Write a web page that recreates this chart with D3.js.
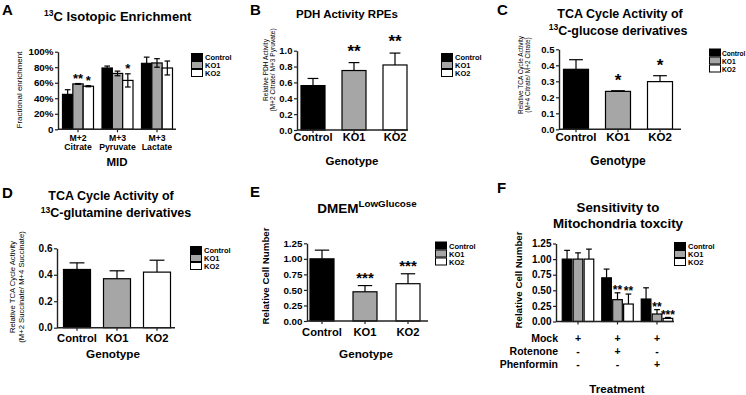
<!DOCTYPE html>
<html>
<head>
<meta charset="utf-8">
<script src="https://cdn.jsdelivr.net/npm/d3@7"></script>
<style>
  body { margin: 0; background: #fff; }
  svg { display: block; }
</style>
</head>
<body>
<svg id="fig" width="746" height="395"></svg>
<script>
const genotypes = ["Control", "KO1", "KO2"];
const colours = ["#000000", "#a6a6a6", "#ffffff"];

// A - 13C isotopic enrichment
const midIsotopologues = ["M+2", "M+3", "M+3"];
const midMetabolites = ["Citrate", "Pyruvate", "Lactate"];
const enrichMean = [[0.45, 0.585, 0.555], [0.79, 0.72, 0.63], [0.85, 0.855, 0.79]];
const enrichErr = [[0.06, 0.005, 0.007], [0.025, 0.03, 0.085], [0.08, 0.055, 0.09]];
const enrichStars = [["", "**", "*"], ["", "", "*"], ["", "", ""]];
const enrichTicks = [0, 0.2, 0.4, 0.6, 0.8, 1];

// B - PDH activity
const pdhMean = [0.56, 0.75, 0.82];
const pdhErr = [0.09, 0.10, 0.15];
const pdhStars = ["", "**", "**"];
const pdhTicks = [0, 0.2, 0.4, 0.6, 0.8, 1.0];

// C - TCA activity, glucose
const glcMean = [0.375, 0.237, 0.298];
const glcErr = [0.06, 0.004, 0.037];
const glcStars = ["", "*", "*"];
const glcTicks = [0, 0.1, 0.2, 0.3, 0.4, 0.5];

// D - TCA activity, glutamine
const glnMean = [0.44, 0.37, 0.42];
const glnErr = [0.05, 0.06, 0.09];
const glnStars = ["", "", ""];
const glnTicks = [0, 0.2, 0.4, 0.6];

// E - low glucose
const lowGlcMean = [1.0, 0.47, 0.60];
const lowGlcErr = [0.14, 0.10, 0.16];
const lowGlcStars = ["", "***", "***"];
const cellTicks = [0, 0.25, 0.5, 0.75, 1.0, 1.25];

// F - mitochondria toxicity
const treatments = ["Mock", "Mock+Rotenone", "Mock+Phenformin"];
const toxMean = [[1.0, 1.0, 1.0], [0.70, 0.35, 0.28], [0.36, 0.12, 0.05]];
const toxErr = [[0.14, 0.10, 0.16], [0.14, 0.11, 0.16], [0.18, 0.07, 0.015]];
const toxStars = [["", "", ""], ["", "**", "**"], ["", "**", "***"]];
const treatmentRows = ["Mock", "Rotenone", "Phenformin"];
const treatmentSigns = [["+", "+", "+"], ["-", "+", "-"], ["-", "-", "+"]];

const FONT = "'Liberation Sans', Arial, Helvetica, sans-serif";
const svg = d3.select("#fig").attr("font-family", FONT);

// title text with optional superscript parts: [[str, isSup], ...]
function richText(parent, t) {
  const el = parent.append("text")
    .attr("x", t.left != null ? t.left : t.x).attr("y", t.y)
    .attr("text-anchor", t.left != null ? "start" : "middle")
    .attr("font-size", t.size)
    .attr("font-weight", 700);
  let raised = false;
  t.parts.forEach(([str, sup]) => {
    const ts = el.append("tspan").text(str);
    if (sup) ts.attr("font-size", t.supSize);
    if (sup && !raised) { ts.attr("dy", -t.supRise); raised = true; }
    else if (!sup && raised) { ts.attr("dy", t.supRise); raised = false; }
  });
  return el;
}

function drawPanel(p) {
  const g = svg.append("g");
  const y = d3.scaleLinear().domain([0, p.yMax]).range([p.y0, p.yTop]);
  const n = p.groups.length;
  const pad = 1 - p.bw / p.step;
  const x = d3.scaleBand().domain(p.groups)
    .range([p.c0 - p.step / 2, p.c0 + (n - 0.5) * p.step])
    .paddingInner(pad).paddingOuter(pad / 2);
  const grouped = Array.isArray(p.mean[0]);
  const sub = d3.scaleBand().domain(genotypes)
    .range([0, x.bandwidth()]).paddingInner(p.subPad || 0);

  const bars = [];
  p.groups.forEach((grp, gi) => {
    if (grouped) {
      genotypes.forEach((gt, k) => bars.push({
        x: x(grp) + sub(gt), w: sub.bandwidth(),
        m: p.mean[gi][k], e: p.err[gi][k], s: p.stars[gi][k], fill: colours[k]
      }));
    } else {
      bars.push({
        x: x(grp), w: x.bandwidth(),
        m: p.mean[gi], e: p.err[gi], s: p.stars[gi], fill: colours[gi]
      });
    }
  });

  // bars
  g.selectAll("rect.bar").data(bars).enter().append("rect")
    .attr("class", "bar")
    .attr("x", d => d.x)
    .attr("y", d => y(d.m))
    .attr("width", d => d.w)
    .attr("height", d => p.y0 - y(d.m))
    .attr("fill", d => d.fill)
    .attr("stroke", "#000")
    .attr("stroke-width", 1.2);

  // error bars
  const eb = g.selectAll("g.err").data(bars).enter().append("g")
    .attr("stroke", "#000").attr("stroke-width", 1.2);
  eb.append("line")
    .attr("x1", d => d.x + d.w / 2).attr("x2", d => d.x + d.w / 2)
    .attr("y1", d => y(p.twoSided ? d.m - d.e : d.m))
    .attr("y2", d => y(d.m + d.e));
  eb.append("line")
    .attr("x1", d => d.x + d.w / 2 - d.w * p.cap / 2)
    .attr("x2", d => d.x + d.w / 2 + d.w * p.cap / 2)
    .attr("y1", d => y(d.m + d.e)).attr("y2", d => y(d.m + d.e));
  if (p.twoSided) {
    eb.append("line")
      .attr("x1", d => d.x + d.w / 2 - d.w * p.cap / 2)
      .attr("x2", d => d.x + d.w / 2 + d.w * p.cap / 2)
      .attr("y1", d => y(d.m - d.e)).attr("y2", d => y(d.m - d.e));
  }

  // significance stars
  g.selectAll("text.star").data(bars.filter(d => d.s)).enter().append("text")
    .attr("class", "star")
    .attr("x", d => d.x + d.w / 2)
    .attr("y", d => y(d.m + d.e) - p.starGap + 0.43 * p.starSize)
    .attr("text-anchor", "middle")
    .attr("font-size", p.starSize)
    .attr("font-weight", 700)
    .text(d => d.s);

  // y axis
  const ya = g.append("g")
    .attr("transform", `translate(${p.axisX},0)`)
    .call(d3.axisLeft(y).tickValues(p.ticks).tickFormat(p.fmt).tickSize(3).tickSizeOuter(0).tickPadding(1.5));
  ya.attr("font-family", FONT).attr("font-size", p.tickSize).attr("font-weight", 700);
  ya.selectAll("text").attr("fill", "#000");
  ya.selectAll("line").attr("stroke", "#222").attr("stroke-width", 1.2);
  ya.select(".domain").attr("stroke", "#222").attr("stroke-width", 1.4);

  // x axis
  g.append("line")
    .attr("x1", p.axisX).attr("x2", p.xEnd)
    .attr("y1", p.y0).attr("y2", p.y0)
    .attr("stroke", "#222").attr("stroke-width", 1.4);
  g.selectAll("line.xtick").data(p.groups).enter().append("line")
    .attr("x1", d => x(d) + x.bandwidth() / 2).attr("x2", d => x(d) + x.bandwidth() / 2)
    .attr("y1", p.y0).attr("y2", p.y0 + 3)
    .attr("stroke", "#222").attr("stroke-width", 1.2);

  // x tick labels
  if (p.xLabels) {
    p.xLabels.forEach((lines, li) => {
      p.groups.forEach((grp, gi) => {
        g.append("text")
          .attr("x", x(grp) + x.bandwidth() / 2)
          .attr("y", p.xLabY[li])
          .attr("text-anchor", "middle")
          .attr("font-size", p.xLabSize)
          .attr("font-weight", 700)
          .text(lines[gi]);
      });
    });
  }

  // treatment table (panel F)
  if (p.table) {
    p.table.rows.forEach((row, ri) => {
      const yy = p.table.y[ri];
      g.append("text")
        .attr("x", p.table.labelX).attr("y", yy)
        .attr("text-anchor", "end")
        .attr("font-size", p.table.size).attr("font-weight", 700)
        .text(row);
      p.groups.forEach((grp, gi) => {
        g.append("text")
          .attr("x", x(grp) + x.bandwidth() / 2).attr("y", yy)
          .attr("text-anchor", "middle")
          .attr("font-size", p.table.size).attr("font-weight", 700)
          .text(p.table.signs[ri][gi]);
      });
    });
  }

  // x title
  g.append("text")
    .attr("x", p.xTitle.x).attr("y", p.xTitle.y)
    .attr("text-anchor", "middle")
    .attr("font-size", p.xTitle.size).attr("font-weight", 700)
    .text(p.xTitle.text);

  // y label
  p.yLab.lines.forEach((line, i) => {
    g.append("text")
      .attr("transform", `translate(${p.yLab.x + i * p.yLab.lh},${p.yLab.cy}) rotate(-90)`)
      .attr("text-anchor", "middle")
      .attr("font-size", p.yLab.size)
      .attr("font-weight", p.yLab.weight || 400)
      .text(line);
  });

  // title
  p.title.forEach(t => richText(g, t));

  // legend
  const lg = g.append("g").attr("transform", `translate(${p.legend.x},${p.legend.y})`);
  genotypes.forEach((gt, k) => {
    lg.append("rect")
      .attr("x", 0.5).attr("y", k * 8 + 0.5)
      .attr("width", 11).attr("height", 7)
      .attr("fill", colours[k]).attr("stroke", "#000").attr("stroke-width", 1);
    lg.append("text")
      .attr("x", p.legend.dx || 14).attr("y", k * 8 + 7)
      .attr("font-size", p.legend.size).attr("font-weight", 700)
      .text(gt);
  });

  // panel letter
  svg.append("text")
    .attr("x", p.letter.x).attr("y", p.letter.y)
    .attr("font-size", 15).attr("font-weight", 700)
    .text(p.letter.text);
}

const fmt1 = d3.format(".1f");
const fmt2 = d3.format(".2f");

drawPanel({
  groups: midMetabolites, mean: enrichMean, err: enrichErr, stars: enrichStars, twoSided: true,
  yMax: 1, ticks: enrichTicks, fmt: d => d === 0 ? "0" : Math.round(d * 100) + "%",
  y0: 129.3, yTop: 51.7, axisX: 58, xEnd: 176, c0: 78, step: 39.5, bw: 31, cap: 0.55,
  tickSize: 9.8, starSize: 13, starGap: 6,
  xLabels: [midIsotopologues, midMetabolites], xLabY: [141, 150], xLabSize: 8.7,
  xTitle: { text: "MID", x: 117, y: 166, size: 11.5 },
  yLab: { lines: ["Fractional enrichment"], x: 22, cy: 90, size: 8, lh: 0 },
  title: [{ left: 44, y: 20.5, size: 13, supSize: 8.5, supRise: 4.5, parts: [["13", true], ["C Isotopic Enrichment", false]] }],
  legend: { x: 191, y: 53, size: 7.5 },
  letter: { text: "A", x: 2, y: 15 }
});

drawPanel({
  groups: genotypes, mean: pdhMean, err: pdhErr, stars: pdhStars,
  yMax: 1, ticks: pdhTicks, fmt: fmt1,
  y0: 130, yTop: 50.7, axisX: 297, xEnd: 408, c0: 313, step: 41, bw: 24, cap: 0.45,
  tickSize: 9.5, starSize: 17, starGap: 13,
  xLabels: [genotypes], xLabY: [141], xLabSize: 11,
  xTitle: { text: "Genotype", x: 352, y: 165, size: 11.5 },
  yLab: { lines: ["Relative PDH Activity", "(M+2 Citrate/ M+3 Pyruvate)"], x: 268, cy: 70, size: 6.6, lh: 7 },
  title: [{ x: 347, y: 18, size: 11.5, parts: [["PDH Activity RPEs", false]] }],
  legend: { x: 441, y: 53, size: 7.5 },
  letter: { text: "B", x: 250, y: 15 }
});

drawPanel({
  groups: genotypes, mean: glcMean, err: glcErr, stars: glcStars,
  yMax: 0.5, ticks: glcTicks, fmt: fmt1,
  y0: 129.3, yTop: 49.3, axisX: 559, xEnd: 681, c0: 576, step: 42, bw: 25, cap: 0.55,
  tickSize: 9.5, starSize: 17, starGap: 12,
  xLabels: [genotypes], xLabY: [141], xLabSize: 11.5,
  xTitle: { text: "Genotype", x: 618, y: 165, size: 12 },
  yLab: { lines: ["Relative TCA Cycle Activity", "(M+4 Citrate/ M+2 Citrate)"], x: 523, cy: 75, size: 6.5, lh: 7 },
  title: [
    { x: 620, y: 18, size: 12.5, parts: [["TCA Cycle Activity of", false]] },
    { x: 618, y: 34.5, size: 12.5, supSize: 8.5, supRise: 4.5, parts: [["13", true], ["C-glucose derivatives", false]] }
  ],
  legend: { x: 709, y: 48.5, size: 6.6, dx: 13 },
  letter: { text: "C", x: 497, y: 15 }
});

drawPanel({
  groups: genotypes, mean: glnMean, err: glnErr, stars: glnStars,
  yMax: 0.6, ticks: glnTicks, fmt: fmt1,
  y0: 327.7, yTop: 248.3, axisX: 57, xEnd: 175, c0: 77, step: 40, bw: 27, cap: 0.55,
  tickSize: 10, starSize: 14, starGap: 10,
  xLabels: [genotypes], xLabY: [342], xLabSize: 11.2,
  xTitle: { text: "Genotype", x: 113, y: 358, size: 11.7 },
  yLab: { lines: ["Relative TCA Cycle Activity", "(M+2 Succinate/ M+4 Succinate)"], x: 15, cy: 287, size: 7.7, lh: 8.5 },
  title: [
    { x: 111, y: 200, size: 12.5, parts: [["TCA Cycle Activity of", false]] },
    { x: 116, y: 217, size: 12.5, supSize: 8.5, supRise: 4.5, parts: [["13", true], ["C-glutamine derivatives", false]] }
  ],
  legend: { x: 190, y: 246, size: 7.5 },
  letter: { text: "D", x: 2, y: 198 }
});

drawPanel({
  groups: genotypes, mean: lowGlcMean, err: lowGlcErr, stars: lowGlcStars,
  yMax: 1.25, ticks: cellTicks, fmt: fmt2,
  y0: 321, yTop: 243.3, axisX: 307, xEnd: 428, c0: 322, step: 43, bw: 24, cap: 0.6,
  tickSize: 9.8, starSize: 15, starGap: 9,
  xLabels: [genotypes], xLabY: [336], xLabSize: 11.2,
  xTitle: { text: "Genotype", x: 366, y: 358, size: 11.7 },
  yLab: { lines: ["Relative Cell Number"], x: 269, cy: 276, size: 9.7, lh: 0, weight: 700 },
  title: [{ x: 367, y: 213, size: 13.5, supSize: 9.8, supRise: 6, parts: [["DMEM", false], ["LowGlucose", true]] }],
  legend: { x: 435, y: 241.5, size: 7.5 },
  letter: { text: "E", x: 250, y: 197 }
});

drawPanel({
  groups: treatments, mean: toxMean, err: toxErr, stars: toxStars, subPad: 0.12,
  yMax: 1.25, ticks: cellTicks, fmt: fmt2,
  y0: 321.5, yTop: 243.5, axisX: 556, xEnd: 674, c0: 578, step: 39.5, bw: 31.5, cap: 0.6,
  tickSize: 10, starSize: 12, starGap: 4,
  table: { rows: treatmentRows, signs: treatmentSigns, y: [342, 355, 368], labelX: 558, size: 10.5 },
  xTitle: { text: "Treatment", x: 617, y: 393, size: 11.6 },
  yLab: { lines: ["Relative Cell Number"], x: 522, cy: 280, size: 9.7, lh: 0, weight: 700 },
  title: [
    { x: 618, y: 212, size: 13.3, parts: [["Sensitivity to", false]] },
    { x: 618, y: 228, size: 13.3, parts: [["Mitochondria toxcity", false]] }
  ],
  legend: { x: 674, y: 242, size: 7.5 },
  letter: { text: "F", x: 497, y: 193 }
});
</script>
</body>
</html>
